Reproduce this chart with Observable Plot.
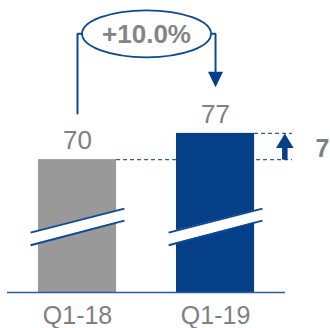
<!DOCTYPE html>
<html>
<head>
<meta charset="utf-8">
<script src="https://cdn.jsdelivr.net/npm/d3@7"></script>
<script src="https://cdn.jsdelivr.net/npm/@observablehq/plot@0.6"></script>
<style>
  html, body { margin: 0; padding: 0; background: #fff; }
  #chart { width: 330px; height: 328px; overflow: hidden; }
  #chart svg { display: block; }
</style>
</head>
<body>
<div id="chart"></div>
<script>
// Quarterly figures
const quarters = ["Q1-18", "Q1-19"];
const revenue = [70, 77];
const barColors = ["#999999", "#053f87"];

// Palette
const lineBlue = "#0d4a96";
const navy = "#053f87";
const grey = "#808080";

// Broken value axis: the bars start well above zero
const yMin = 34.5, yMax = 112.5;
const half = 0.283;          // half bar width, in category units
const lift = 12.3;           // gap between a bar top and its bracket leg, in value units
const bracketY = 103.6;      // level of the bracket joining the two quarters
const breakLo = [47.1, 53.7];  // lower edge of the axis-break band (left, right)
const breakHi = [50.5, 56.9];  // upper edge of the axis-break band (left, right)
const breakReach = 0.34;

const bars = quarters.map((q, i) => ({i, q, v: revenue[i], fill: barColors[i]}));
const delta = revenue[1] - revenue[0];
const pct = d3.format("+.1%")(delta / revenue[0]);

// Axis-break band across each bar
const band = bars.flatMap(d => [
  {i: d.i, x: d.i - breakReach, lo: breakLo[0], hi: breakHi[0]},
  {i: d.i, x: d.i + breakReach, lo: breakLo[1], hi: breakHi[1]}
]);

// Bracket from the first bar to the second
const bracket = [
  {x: 0, y: revenue[0] + lift},
  {x: 0, y: bracketY},
  {x: 1, y: bracketY},
  {x: 1, y: revenue[1] + lift + 1.5}
];

// Custom symbols: an ellipse and an arrowhead with its tip at the origin
const ellipse = (rx, ry) => ({
  draw(ctx) {
    const k = 0.5523;
    ctx.moveTo(rx, 0);
    ctx.bezierCurveTo(rx, ry * k, rx * k, ry, 0, ry);
    ctx.bezierCurveTo(-rx * k, ry, -rx, ry * k, -rx, 0);
    ctx.bezierCurveTo(-rx, -ry * k, -rx * k, -ry, 0, -ry);
    ctx.bezierCurveTo(rx * k, -ry, rx, -ry * k, rx, 0);
    ctx.closePath();
  }
});
const head = (w, h, dir) => ({
  draw(ctx) {
    ctx.moveTo(0, 0);
    ctx.lineTo(-w / 2, -dir * h);
    ctx.lineTo(w / 2, -dir * h);
    ctx.closePath();
  }
});

const deltaX = 1.502;
const tailX = 1.558;

const chart = Plot.plot({
  width: 330,
  height: 328,
  marginTop: 0,
  marginLeft: 0,
  marginRight: 0,
  marginBottom: 36,
  style: {fontFamily: "'Liberation Sans', Arial, sans-serif", background: "#fff", overflow: "visible"},
  x: {domain: [-0.558, 1.833], axis: null},
  y: {domain: [yMin, yMax], axis: null},
  color: {type: "identity"},
  marks: [
    // dashed guides at each bar top
    Plot.ruleY([revenue[0]], {x1: half, x2: tailX, stroke: "#2b5ba3", strokeWidth: 1.2, strokeDasharray: "4,3"}),
    Plot.ruleY([revenue[1]], {x1: 1 + half, x2: tailX, stroke: "#2b5ba3", strokeWidth: 1.2, strokeDasharray: "4,3"}),
    // bars
    Plot.rectY(bars, {x1: d => d.i - half, x2: d => d.i + half, y1: () => yMin, y2: "v", fill: "fill"}),
    // axis break
    Plot.areaY(band, {x: "x", y1: "lo", y2: "hi", z: "i", fill: "#fff"}),
    Plot.link(bars, {x1: d => d.i - breakReach, x2: d => d.i + breakReach, y1: () => breakLo[0], y2: () => breakLo[1], stroke: lineBlue, strokeWidth: 2}),
    Plot.link(bars, {x1: d => d.i - breakReach, x2: d => d.i + breakReach, y1: () => breakHi[0], y2: () => breakHi[1], stroke: lineBlue, strokeWidth: 2}),
    // baseline
    Plot.ruleY([yMin], {x1: -0.507, x2: 1.507, stroke: "#2a5aa5", strokeWidth: 1.5}),
    // growth bracket
    Plot.line(bracket, {x: "x", y: "y", stroke: lineBlue, strokeWidth: 2, strokeLinejoin: "miter", curve: "linear"}),
    Plot.dot([pct], {x: () => 0.5, y: () => bracketY, symbol: ellipse(64.5, 23.5), fill: "#fff", stroke: lineBlue, strokeWidth: 1.8}),
    Plot.text([pct], {x: () => 0.5, y: () => bracketY, text: d => d, fontSize: 26, fontWeight: "bold", fill: "#858585", lineAnchor: "bottom", dy: 9.5}),
    Plot.dot([revenue[1]], {x: () => 1, y: d => d + lift, symbol: head(15, 15.5, 1), fill: navy, stroke: "none"}),
    // value labels
    Plot.text(bars, {x: "i", y: "v", text: d => String(d.v), fontSize: 26, fill: grey, lineAnchor: "bottom", dy: -10.5}),
    // difference arrow
    Plot.link([delta], {x1: () => deltaX, x2: () => deltaX, y1: () => revenue[0], y2: () => revenue[1] - 2, stroke: navy, strokeWidth: 5.5}),
    Plot.dot([delta], {x: () => deltaX, y: () => revenue[1], symbol: head(17.6, 14.5, -1), fill: navy, stroke: "none"}),
    Plot.text([delta], {x: () => 1.725, y: () => revenue[0], text: d => String(d), fontSize: 25, fontWeight: "bold", fill: grey, textAnchor: "start", lineAnchor: "bottom", dy: -2.3}),
    // category axis
    Plot.axisX({ticks: [0, 1], tickFormat: i => quarters[i], tickSize: 0, tickPadding: 13.5, fontSize: 25, color: grey, label: null})
  ]
});

document.getElementById("chart").appendChild(chart);
</script>
</body>
</html>
